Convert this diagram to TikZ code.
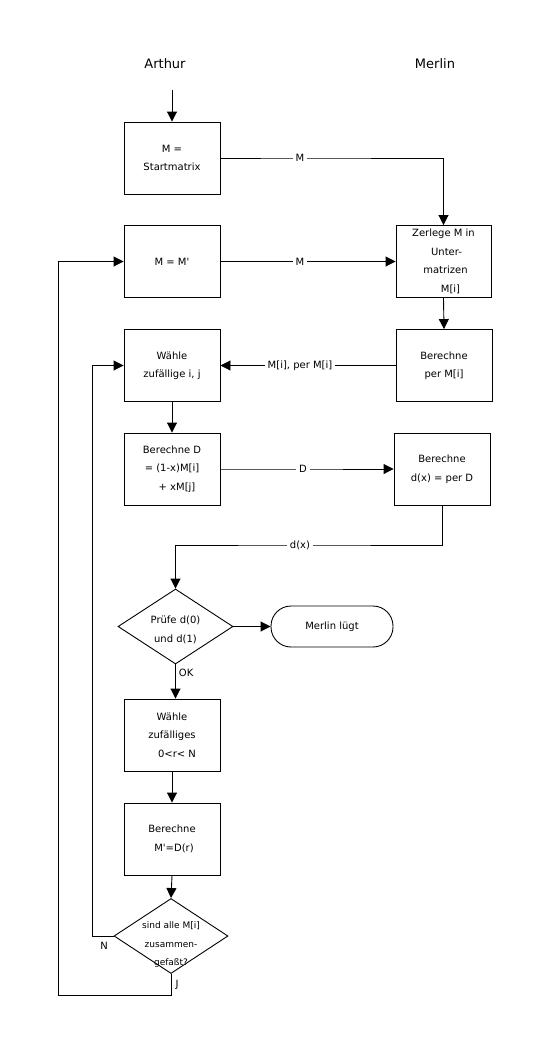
\documentclass[tikz,border=0pt]{standalone}
\usepackage{fontspec}
\setmainfont{DejaVu Sans}
\usetikzlibrary{arrows.meta,shapes.geometric}
\newcommand{\apos}{\textquotesingle}
\begin{document}
\begin{tikzpicture}[x=1pt,y=-1pt,
  line width=0.9pt,
  arr/.style={-{Triangle[length=10pt,width=10pt]}},
  box/.style={draw,minimum width=96pt,minimum height=72pt,inner sep=0pt,align=center,
    font=\fontsize{10}{18.5}\selectfont},
  dia/.style={draw,diamond,inner sep=0pt,minimum width=115pt,minimum height=75pt},
  lab/.style={fill=white,inner sep=3pt,font=\fontsize{10}{12}\selectfont},
  head/.style={font=\fontsize{13}{15}\selectfont}]
\useasboundingbox (0,0) rectangle (550,1050);
\node[head] (arthur) at (165,64) {Arthur};
\node[head] (merlin) at (435,64) {Merlin};
\coordinate (start) at (172,90);
\node[box] (b1) at (172,158) {M =\\Startmatrix};
\node[box] (b2) at (172,261.5) {M = M\apos};
\node[box,minimum width=95pt] (zer) at (443.5,261.5) {Zerlege M in\\\hspace*{6pt}Unter-\\\hspace*{4pt}matrizen\\\hspace*{14pt}M[i]};
\node[box] (per) at (444,365.5) {Berechne\\per M[i]};
\node[box] (wij) at (172,365.5) {Wähle\\zufällige i, j};
\node[box] (bd) at (172,469) {Berechne D\\= (1-x)M[i]\\\hspace*{10pt}+ xM[j]};
\node[box] (bdx) at (442,469) {Berechne\\d(x) = per D};
\node[dia] (d1) at (175.5,626.5) {};
\node[align=center,font=\fontsize{10}{18.5}\selectfont] (d1t) at (175.5,630) {Prüfe d(0)\\und d(1)};
\node[draw,minimum width=122pt,minimum height=41pt,rounded corners=20pt,font=\fontsize{10}{12}\selectfont] (lie) at (332,626.5) {Merlin lügt};
\node[box] (wr) at (172,735) {Wähle\\zufälliges\\\hspace*{10pt}0<r< N};
\node[box] (bm) at (172,839) {Berechne\\\hspace*{4pt}M\apos=D(r)};
\node[dia,minimum width=114pt] (d2) at (171,936) {};
\node[align=center,font=\fontsize{9}{18.5}\selectfont] (d2t) at (171,945) {sind alle M[i]\\zusammen-\\gefaßt?};
% connectors
\draw[arr] (start) -- (b1.north);
\draw[arr] (b1.east) -- (300,158) node[lab]{M} -| (zer.north);
\draw[arr] (b2.east) -- (300,261.5) node[lab]{M} -- (zer.west);
\draw[arr] (zer.south) -- (per.north);
\draw[arr] (per.west) -- (300,365.5) node[lab]{M[i], per M[i]} -- (wij.east);
\draw[arr] (wij.south) -- (bd.north);
\draw[arr] (bd.east) -- (303,469) node[lab]{D} -- (bdx.west);
\coordinate (c1) at (442,545);
\coordinate (c2) at (175.5,545);
\draw[arr] (bdx.south) -- (c1) -- (300,545) node[lab]{d(x)} -- (c2) -- (d1.north);
\draw[arr] (d1.east) -- (lie.west);
\draw[arr] (d1.south) -- node[right,inner sep=3pt,pos=0.25,font=\fontsize{10}{12}\selectfont]{OK} (wr.north -| d1.south);
\draw[arr] (wr.south) -- (bm.north);
\draw[arr] (bm.south) -- (d2.north);
\coordinate (n1) at (92,936);
\coordinate (n2) at (92,365.5);
\draw[arr] (d2.west) -- (n1) -- (n2) -- (wij.west);
\node[font=\fontsize{10}{12}\selectfont] (nlab) at (104,946) {N};
\coordinate (j1) at (171,995);
\coordinate (j2) at (58,995);
\coordinate (j3) at (58,261.5);
\draw[arr] (d2.south) -- (j1) -- (j2) -- (j3) -- (b2.west);
\node[font=\fontsize{10}{12}\selectfont] (jlab) at (177,985) {J};
\end{tikzpicture}
\end{document}
